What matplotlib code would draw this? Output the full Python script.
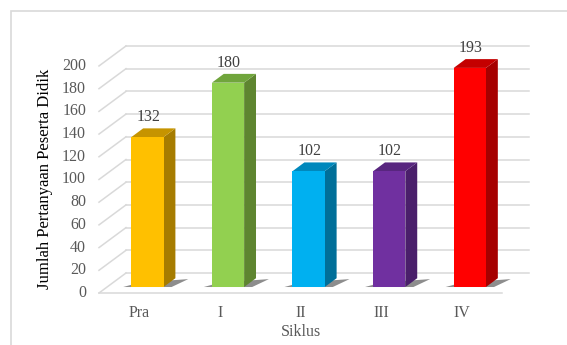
import matplotlib
matplotlib.use('Agg')
import matplotlib.pyplot as plt
from matplotlib.patches import Polygon, Rectangle

# data
categories = ['Pra', 'I', 'II', 'III', 'IV']
values = [132, 180, 102, 102, 193]
yticks = list(range(0, 201, 20))
front_colors = ['#FFC000', '#92D050', '#00B0F0', '#7030A0', '#FF0000']
side_colors = ['#A67C00', '#5E8530', '#006F99', '#4A1F6B', '#A60000']
top_colors = ['#C69400', '#70A53C', '#0088BC', '#58267F', '#C40000']

plt.rcParams['font.family'] = ['Liberation Serif', 'DejaVu Serif']

fig = plt.figure(figsize=(5.67, 3.45), dpi=100)
ax = fig.add_axes([0, 0, 1, 1])
ax.set_xlim(-1.728, 5.306)
ax.set_ylim(-45.8, 258.1)
ax.axis('off')

# border
fig.patches.append(Rectangle((11 / 567, -0.1), 1.2, 1.1 - 11 / 345,
                             transform=fig.transFigure, fill=False,
                             edgecolor='#D9D9D9', linewidth=1.2))

# 3d depth offsets (category units, value units)
DX = 0.335
DY = 17.6
x0, x1 = -0.5, len(categories) - 0.5
grid_c = '#D9D9D9'

for v in yticks:
    ax.plot([x0 + DX, x1 + DX], [v + DY, v + DY], color=grid_c, lw=1.1, zorder=1)
    ax.plot([x0, x0 + DX], [v, v + DY], color=grid_c, lw=1.1, zorder=1)
    ax.text(x0 - 0.16, v, str(v), ha='right', va='center', fontsize=11.5, color='#595959')
ax.plot([x0, x1], [0, 0], color=grid_c, lw=1.1, zorder=1)

# bars
w = 0.40
d0, d1 = 0.30, 0.74
for i, v in enumerate(values):
    left = i - w / 2 + d0 * DX
    right = i + w / 2 + d0 * DX
    yb = d0 * DY
    yt = v + d0 * DY
    ddx = (d1 - d0) * DX
    ddy = (d1 - d0) * DY
    # shadow on floor
    shadow = [(left - 0.1, yb), (right + 0.1, yb), (right + ddx + 0.16, yb + ddy * 0.9),
              (left + 0.1, yb + ddy * 0.5)]
    ax.add_patch(Polygon(shadow, closed=True, facecolor='#303030', alpha=0.55,
                         edgecolor='none', zorder=2))
    ax.add_patch(Polygon([(right, yb), (right + ddx, yb + ddy), (right + ddx, yt + ddy), (right, yt)],
                         closed=True, facecolor=side_colors[i], edgecolor='none', zorder=3))
    ax.add_patch(Polygon([(left, yt), (right, yt), (right + ddx, yt + ddy), (left + ddx, yt + ddy)],
                         closed=True, facecolor=top_colors[i], edgecolor='none', zorder=3))
    ax.add_patch(Rectangle((left, yb), w, v, facecolor=front_colors[i], edgecolor='none', zorder=4))
    ax.text(i + 0.11, v + 23, str(v), ha='center', va='center', fontsize=11.5, color='#404040')
    ax.text(i, -17.6, categories[i], ha='center', va='center', fontsize=11.5, color='#595959')

ax.text(2.0, -34.4, 'Siklus', ha='center', va='center', fontsize=11.5, color='#595959')
ax.text(-1.17, 100.4, 'Jumlah Pertanyaan Peserta Didik', rotation=90, ha='center',
        va='center', fontsize=12, color='#000000')

fig.savefig('out.png', dpi=100)
